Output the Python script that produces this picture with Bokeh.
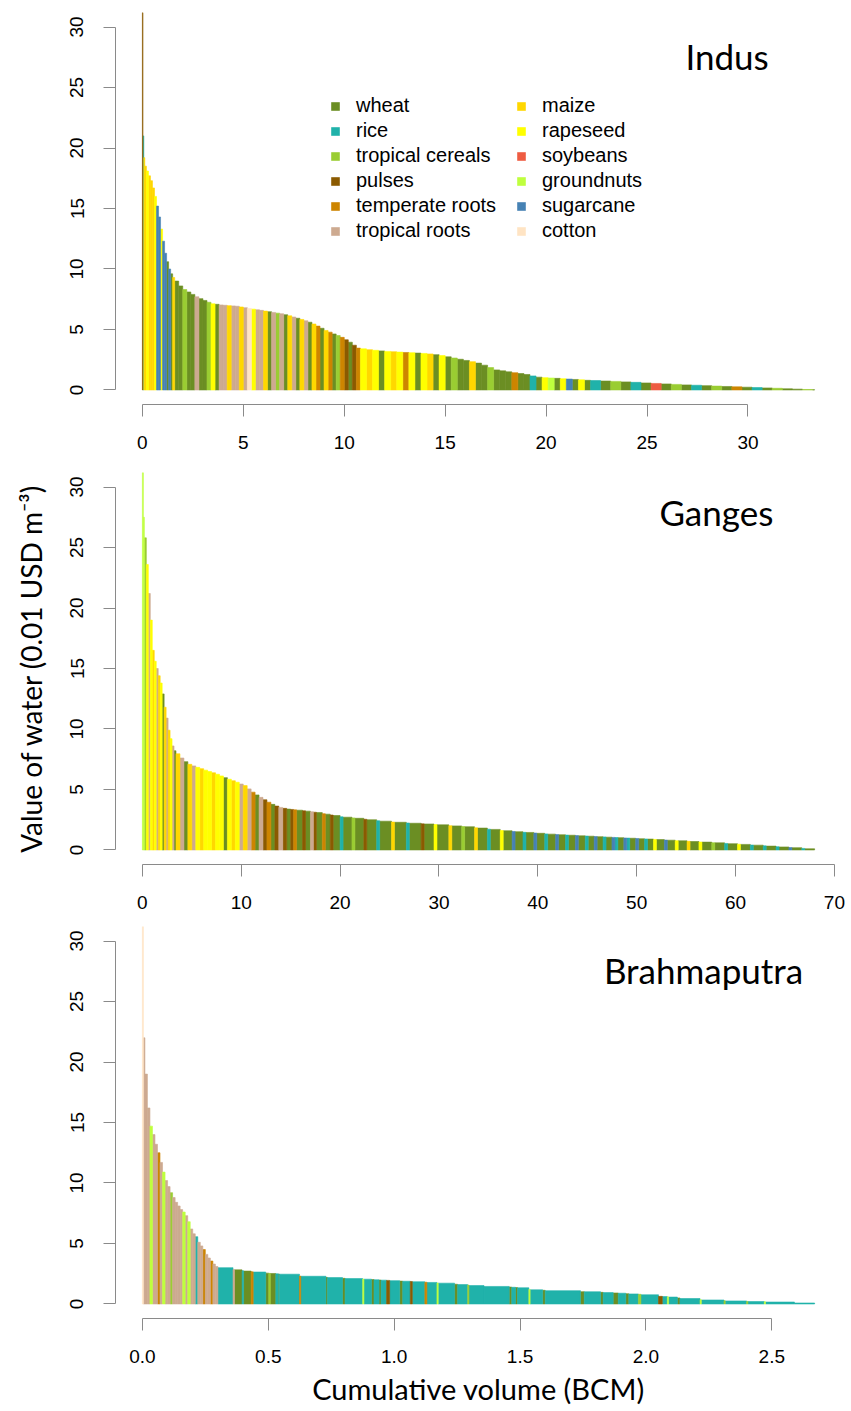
import numpy as np
from bokeh.plotting import figure
from bokeh.models import (ColumnDataSource, FixedTicker, PrintfTickFormatter,
                          Legend, LegendItem, Label, Range1d)
from bokeh.layouts import column
from bokeh.embed import file_html
from bokeh.resources import INLINE

# ---------------- crops ----------------
crop_names = ["wheat", "rice", "tropical cereals", "pulses", "temperate roots",
              "tropical roots", "maize", "rapeseed", "soybeans", "groundnuts",
              "sugarcane", "cotton"]
crop_codes = ["W", "R", "T", "P", "E", "O", "M", "S", "Y", "G", "C", "X"]
crop_colors = ["#6B8E23", "#20B2AA", "#9ACD32", "#8B5A00", "#CD8500", "#CDAA90",
               "#FFD700", "#FFFF00", "#EE5C42", "#BFFF3E", "#4682B4", "#FFE4C4"]

# ---------------- Indus (volume BCM, value 0.01 USD/m3, crop) ----------------
indus_width = [0.03, 0.04, 0.05, 0.08,
               0.1, 0.1, 0.1, 0.1, 0.1, 0.1, 0.1, 0.1, 0.1, 0.1, 0.1, 0.1, 0.1, 0.1,
               0.2, 0.2, 0.2, 0.2, 0.2, 0.2, 0.2, 0.2, 0.2, 0.2,
               0.2, 0.2, 0.2, 0.2, 0.2, 0.2, 0.2, 0.2, 0.2, 0.2,
               0.2, 0.2, 0.2, 0.2, 0.2, 0.2, 0.2, 0.2, 0.2, 0.2,
               0.2, 0.2, 0.2, 0.2, 0.2, 0.2, 0.2, 0.2, 0.2, 0.2,
               0.2, 0.2, 0.2, 0.2, 0.2, 0.2,
               0.3, 0.3, 0.3, 0.3, 0.3, 0.3, 0.3, 0.3, 0.3, 0.3,
               0.3, 0.3, 0.3, 0.3, 0.3, 0.3, 0.3, 0.3, 0.3, 0.3,
               0.3, 0.3, 0.3, 0.3, 0.3, 0.3, 0.3, 0.3, 0.3, 0.3,
               0.3, 0.3, 0.3, 0.3, 0.3, 0.3, 0.3, 0.3,
               0.5, 0.5, 0.5, 0.5, 0.5, 0.5, 0.5, 0.5, 0.5, 0.5,
               0.5, 0.5, 0.5, 0.5, 0.5, 0.5, 0.5, 0.5, 0.5, 0.5,
               0.5, 0.5, 0.1]
indus_value = [31.2, 21.0, 19.2, 18.5,
               18.1, 17.7, 17.3, 16.7, 16.0, 15.2, 14.3, 13.3, 12.3, 11.3, 10.6, 10.0, 9.6, 9.3,
               9.0, 8.6, 8.3, 8.1, 7.9, 7.7, 7.55, 7.4, 7.25, 7.12,
               7.08, 7.03, 7.0, 6.97, 6.95, 6.92, 6.86, 6.8, 6.74, 6.68,
               6.63, 6.58, 6.52, 6.47, 6.41, 6.35, 6.3, 6.22, 6.13, 6.03,
               5.93, 5.83, 5.72, 5.6, 5.45, 5.28, 5.1, 4.92, 4.78, 4.63,
               4.5, 4.35, 4.15, 3.95, 3.7, 3.46,
               3.4, 3.33, 3.28, 3.23, 3.19, 3.16, 3.13, 3.1, 3.08, 3.05,
               3.02, 2.98, 2.92, 2.84, 2.74, 2.64, 2.54, 2.44, 2.34, 2.22,
               2.05, 1.85, 1.66, 1.58, 1.5, 1.43, 1.36, 1.28, 1.16, 1.06,
               1.02, 0.99, 0.96, 0.93, 0.9, 0.87, 0.84, 0.8,
               0.78, 0.74, 0.71, 0.67, 0.63, 0.58, 0.54, 0.5, 0.46, 0.42,
               0.39, 0.36, 0.32, 0.29, 0.26, 0.23, 0.2, 0.17, 0.14, 0.1,
               0.07, 0.04, 0.02]
indus_crop = ("PRMMSMMMSC" "CSCCWCWMWW" "TWWOWWTSWO" "OMOOMOXSOO" "MWOTOWMOWM"
              "OWMEWMEWTE" "PWPESMSWSM" "SESWSMWSWT" "WWMWWTWWWE" "WWRWSGWSCW"
              "SWRWTWRWYW" "TWRWTWEWRW" "TWWTW")

# ---------------- Ganges ----------------
ganges_width = [0.1, 0.1,
                0.2, 0.2, 0.2, 0.2, 0.2, 0.2, 0.2, 0.2, 0.2, 0.2, 0.2, 0.2, 0.2, 0.2, 0.2, 0.2,
                0.4, 0.4, 0.4, 0.4, 0.4, 0.4, 0.4, 0.4, 0.4, 0.4,
                0.4, 0.4, 0.4, 0.4, 0.4, 0.4, 0.4, 0.4, 0.4, 0.4,
                0.4, 0.4, 0.4, 0.4, 0.4, 0.4, 0.4, 0.4, 0.4,
                0.3, 0.3, 0.6, 0.3, 0.5, 0.3, 0.3, 0.6, 0.3, 0.5,
                0.3, 0.7, 0.3, 0.9, 0.3, 0.9, 0.3, 1.0, 0.3, 1.2,
                0.3, 1.2, 0.3, 1.2, 0.3, 1.0, 0.3, 1.2, 0.3, 1.0,
                0.3, 1.0, 0.3, 1.0, 0.3, 1.0, 0.3, 0.9, 0.3, 0.8,
                0.3, 0.8, 0.3, 0.8, 0.3, 0.8, 0.3, 0.7, 0.3, 0.7,
                0.3, 0.7, 0.3, 0.6, 0.3, 0.6, 0.3, 0.6, 0.3, 0.3,
                0.6, 0.3, 0.3, 0.6, 0.3, 0.6, 0.3, 0.6, 0.3, 0.8,
                0.3, 0.8, 0.3, 0.9, 0.3, 0.9, 0.3, 1.0, 0.3, 1.0,
                0.3, 1.0, 0.3, 1.0, 0.3, 1.0, 0.3, 1.0, 0.3, 1.0,
                0.3, 1.0, 0.3, 1.0]
ganges_value = [31.2, 27.5,
                25.8, 23.6, 21.2, 19.0, 16.5, 15.6, 15.0, 14.4, 13.8, 12.9, 11.8, 10.9, 9.9, 9.2, 8.6, 8.2,
                7.95, 7.6, 7.3, 7.08, 6.95, 6.83, 6.72, 6.6, 6.48, 6.38,
                6.26, 6.12, 5.98, 5.85, 5.72, 5.6, 5.45, 5.32, 5.05, 4.78,
                4.55, 4.35, 4.15, 3.95, 3.77, 3.63, 3.52, 3.44, 3.38,
                3.35, 3.32, 3.29, 3.24, 3.21, 3.16, 3.12, 3.09, 3.0, 2.96,
                2.89, 2.85, 2.74, 2.71, 2.65, 2.62, 2.54, 2.5, 2.42, 2.38,
                2.31, 2.29, 2.23, 2.21, 2.16, 2.15, 2.1, 2.08, 2.01, 1.99,
                1.94, 1.92, 1.84, 1.81, 1.72, 1.7, 1.61, 1.59, 1.53, 1.51,
                1.46, 1.45, 1.4, 1.38, 1.33, 1.31, 1.27, 1.26, 1.23, 1.22,
                1.19, 1.17, 1.15, 1.14, 1.11, 1.1, 1.08, 1.06, 1.04, 1.03,
                1.02, 0.99, 0.98, 0.97, 0.95, 0.93, 0.91, 0.9, 0.87, 0.86,
                0.82, 0.81, 0.77, 0.76, 0.72, 0.7, 0.66, 0.65, 0.6, 0.59,
                0.54, 0.52, 0.48, 0.46, 0.41, 0.4, 0.34, 0.32, 0.27, 0.25,
                0.2, 0.19, 0.13, 0.1]
ganges_crop = ("GGTSOSMSOMSWMOMSOW"
               "MOWMOSMSSMSSWSMSOMOEWOPEWPOPW"
               "PEWPWOPWEW" "PWRWTWPWRW" "MWRWPWSWMW" "TWMWRWSWCW" "RWCWRWCWRW"
               "CWRWCWRWCR" "WCRWCWRWSW" "CWSWMWSWTW" "RWSWRWRWRW" "CWRW")

# ---------------- Brahmaputra ----------------
brahma_width = [0.004, 0.006,
                0.01, 0.01, 0.01, 0.01, 0.01, 0.01, 0.01, 0.01, 0.01, 0.01,
                0.01, 0.01, 0.01, 0.01, 0.01, 0.01, 0.01, 0.01, 0.01, 0.01,
                0.01, 0.01, 0.01, 0.01, 0.01, 0.01, 0.01, 0.01, 0.01,
                0.060, 0.006, 0.030, 0.006, 0.030, 0.008, 0.050, 0.012, 0.006, 0.022,
                0.010, 0.004, 0.080, 0.005, 0.100, 0.006, 0.060, 0.010, 0.070, 0.005,
                0.030, 0.010, 0.020, 0.008, 0.022, 0.012, 0.040, 0.012, 0.030, 0.008,
                0.050, 0.008, 0.040, 0.005, 0.065, 0.012, 0.040, 0.005, 0.060, 0.100,
                0.010, 0.015, 0.008, 0.045, 0.005, 0.050, 0.010, 0.140, 0.015, 0.065,
                0.010, 0.040, 0.020, 0.030, 0.012, 0.038, 0.010, 0.070, 0.015, 0.020,
                0.005, 0.035, 0.010, 0.080, 0.005, 0.090, 0.005, 0.085, 0.005, 0.065,
                0.005, 0.115, 0.080]
brahma_value = [31.2, 22.0,
                19.0, 16.2, 14.7, 14.0, 13.2, 12.5, 11.7, 10.9, 10.2, 9.7,
                9.2, 8.8, 8.4, 8.1, 7.8, 7.6, 7.3, 6.8, 6.2, 5.8,
                5.56, 5.1, 4.8, 4.5, 4.1, 3.8, 3.55, 3.3, 3.1,
                3.00, 2.85, 2.82, 2.75, 2.72, 2.66, 2.64, 2.55, 2.53, 2.52,
                2.49, 2.48, 2.46, 2.31, 2.29, 2.20, 2.18, 2.12, 2.10, 2.06,
                2.05, 2.02, 2.00, 1.98, 1.97, 1.95, 1.93, 1.89, 1.88, 1.86,
                1.84, 1.80, 1.78, 1.74, 1.72, 1.63, 1.60, 1.57, 1.52, 1.45,
                1.40, 1.38, 1.36, 1.34, 1.20, 1.17, 1.13, 1.10, 1.02, 1.01,
                0.96, 0.94, 0.91, 0.89, 0.85, 0.83, 0.80, 0.76, 0.63, 0.61,
                0.59, 0.57, 0.50, 0.45, 0.36, 0.33, 0.27, 0.25, 0.21, 0.20,
                0.19, 0.16, 0.08]
brahma_crop = ("XOOOGOOEOGOOTOOOOGOGOOROOEOOEOO"
               "ROWRWERWTW" "RWRERWRWRG" "RWRWRPRWRP" "RERGRWRTRR" "WRWRGRWRWR"
               "WRWRWRTRPR" "GRWRGRTRTR" "GRR")

indus_ticks = [0, 5, 10, 15, 20, 25, 30]
ganges_ticks = [0, 10, 20, 30, 40, 50, 60, 70]
brahma_ticks = [0.0, 0.5, 1.0, 1.5, 2.0, 2.5]
y_ticks = [0, 5, 10, 15, 20, 25, 30]

AXIS_GREY = "#8a8a8a"
TICK_FONT = "Liberation Sans"
TITLE_FONT = "Lato"


def basin_figure(widths, values, crops, xticks, height, btop, bbottom):
    w = np.array(widths, dtype=float)
    v = np.array(values, dtype=float)
    right = np.cumsum(w)
    left = right - w
    xmax = right[-1]
    pad = 0.04 * xmax
    p = figure(width=846, height=height,
               x_range=Range1d(-pad, xmax + pad), y_range=Range1d(-1.2, 31.2),
               output_backend="svg", toolbar_location=None,
               min_border_left=115, min_border_right=5,
               min_border_top=btop, min_border_bottom=bbottom)
    codes = list(crops)
    rends = {}
    for code, name, color in zip(crop_codes, crop_names, crop_colors):
        idx = [i for i, c in enumerate(codes) if c == code]
        src = ColumnDataSource(dict(left=left[idx], right=right[idx], top=v[idx]))
        rends[name] = p.quad(left="left", right="right", top="top", bottom=0,
                             source=src, fill_color=color, line_color=color,
                             line_width=0.6)
    p.grid.visible = False
    p.outline_line_color = None
    p.background_fill_color = "white"
    p.border_fill_color = "white"
    for ax in (p.xaxis[0], p.yaxis[0]):
        ax.axis_line_color = AXIS_GREY
        ax.major_tick_line_color = AXIS_GREY
        ax.minor_tick_line_color = None
        ax.major_tick_out = 12
        ax.major_tick_in = 0
        ax.major_label_text_font = TICK_FONT
        ax.major_label_text_font_size = "19px"
        ax.major_label_text_color = "black"
    p.xaxis.ticker = FixedTicker(ticks=xticks)
    p.xaxis.bounds = (xticks[0], xticks[-1])
    p.xaxis.major_label_standoff = 19
    p.yaxis.ticker = FixedTicker(ticks=y_ticks)
    p.yaxis.bounds = (0, 30)
    p.yaxis.major_label_orientation = "vertical"
    p.yaxis.major_label_standoff = 20
    return p, rends


p1, r1 = basin_figure(indus_width, indus_value, indus_crop, indus_ticks, 460, 12, 56)
p2, r2 = basin_figure(ganges_width, ganges_value, ganges_crop, ganges_ticks, 458, 12, 54)
p3, r3 = basin_figure(brahma_width, brahma_value, brahma_crop, brahma_ticks, 493, 8, 93)
p3.xaxis.formatter = PrintfTickFormatter(format="%.1f")

# basin titles
for p, name, xpos, ypos in ((p1, "Indus", 26.9, 27.6), (p2, "Ganges", 52.3, 27.9),
                            (p3, "Brahmaputra", 1.833, 27.6)):
    p.add_layout(Label(x=xpos, y=ypos, text=name, text_font=TITLE_FONT,
                       text_font_size="35px", text_color="black",
                       text_align="left", text_baseline="alphabetic"))

# axis titles
p2.yaxis.axis_label = "Value of water (0.01 USD m\u207b\u00b3)"
p2.yaxis.axis_label_text_font = TITLE_FONT
p2.yaxis.axis_label_text_font_size = "28px"
p2.yaxis.axis_label_text_font_style = "normal"
p2.yaxis.axis_label_text_color = "black"
p2.yaxis.axis_label_standoff = 20

p3.xaxis.axis_label = "Cumulative volume (BCM)"
p3.xaxis.axis_label_text_font = TITLE_FONT
p3.xaxis.axis_label_text_font_size = "29px"
p3.xaxis.axis_label_text_font_style = "normal"
p3.xaxis.axis_label_text_color = "black"
p3.xaxis.axis_label_standoff = 5

# legend (two columns) on the Indus panel
for names, loc in ((crop_names[:6], (215, 162)), (crop_names[6:], (401, 162))):
    leg = Legend(items=[LegendItem(label=n, renderers=[r1[n]]) for n in names],
                 location=loc, orientation="vertical",
                 glyph_width=10, glyph_height=10, label_standoff=16,
                 label_height=23, spacing=2, padding=0, margin=0,
                 label_text_font=TICK_FONT, label_text_font_size="20px",
                 label_text_color="black",
                 border_line_color=None, background_fill_alpha=0)
    p1.add_layout(leg, "center")

layout = column(p1, p2, p3, spacing=0)
open("out.html", "w").write(file_html(layout, INLINE))
